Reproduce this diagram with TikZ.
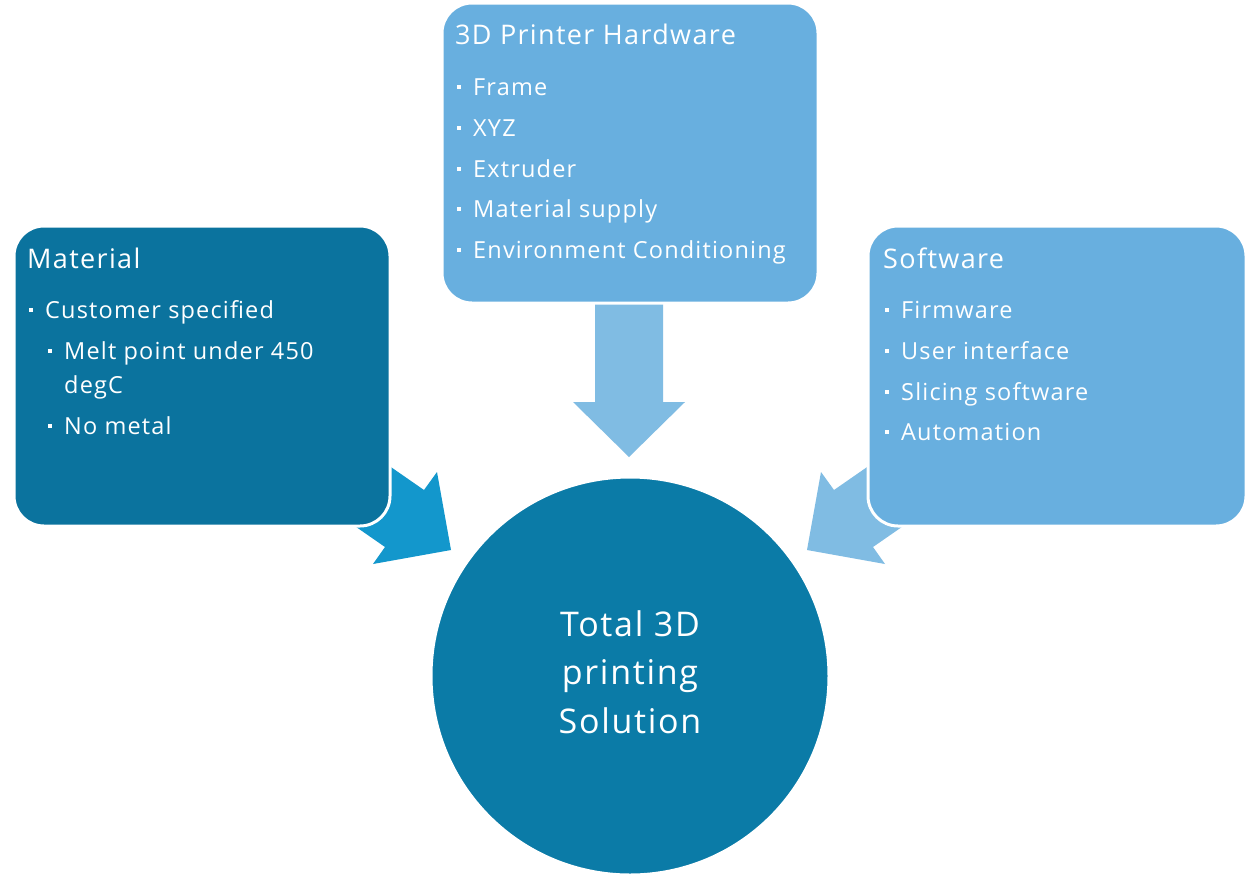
\documentclass[tikz,border=0pt]{standalone}
\usepackage{fontspec}
\setmainfont{Open Sans}[LetterSpace=5]
\definecolor{darkbox}{HTML}{0B739E}
\definecolor{lightbox}{HTML}{68AFDF}
\definecolor{lightarrow}{HTML}{80BCE3}
\definecolor{brightarrow}{HTML}{1397CC}
\definecolor{hub}{HTML}{0B7BA7}
\tikzset{
  box/.style={line width=3pt, draw=white, rounded corners=30pt},
  title/.style={anchor=base west, text=white, inner sep=0pt, font=\fontsize{27}{34}\selectfont},
  item/.style={anchor=base west, text=white, inner sep=0pt, font=\fontsize{23.5}{30}\selectfont},
  hubtext/.style={text=white, align=center, font=\fontsize{34}{48.5}\selectfont},
  bul/.style={fill=white, minimum size=4pt, inner sep=0pt, draw=none},
}
\newcommand{\bulitem}[4]{%
  \node[bul] (#1b) at (#2-14,#3-8.5) {};
  \node[item] (#1) at (#2,#3) {#4};}
\begin{document}
\begin{tikzpicture}[x=1pt,y=-1pt]
\useasboundingbox (0,0) rectangle (1253,876);
\fill[white] (0,0) rectangle (1253,876);
% arrows (behind boxes)
\fill[lightarrow] (595,300) -- (663,300) -- (663,402) -- (685,402) -- (629,457) -- (573,402) -- (595,402) -- cycle;
\fill[brightarrow] (375,456) -- (424,490) -- (437,472) -- (451,550) -- (373,564) -- (385,547) -- (336,513) -- cycle;
\fill[lightarrow] (883,456) -- (834,490) -- (821,472) -- (807,550) -- (885,564) -- (873,547) -- (922,513) -- cycle;
% hub
\node[circle, fill=hub, draw=white, line width=3pt, minimum size=398pt, inner sep=0pt] (hubc) at (630,676) {};
\node[hubtext] (hubt) at (630,672) {Total 3D\\printing\\Solution};
% boxes
\draw[box, fill=darkbox] (14,226) rectangle (390,526);
\draw[box, fill=lightbox] (442,3) rectangle (818,303);
\draw[box, fill=lightbox] (868,226) rectangle (1246,526);
% Material
\node[title] (mt) at (27,268) {Material};
\bulitem{m1}{45}{318}{Customer specified}
\bulitem{m2}{64}{359}{Melt point under 450}
\node[item] (m2b2) at (64,393) {degC};
\bulitem{m3}{64}{434}{No metal}
% Hardware
\node[title] (ht) at (455,44) {3D Printer Hardware};
\bulitem{h1}{473}{95}{Frame}
\bulitem{h2}{473}{136}{XYZ}
\bulitem{h3}{473}{177}{Extruder}
\bulitem{h4}{473}{217}{Material supply}
\bulitem{h5}{473}{258}{Environment Conditioning}
% Software
\node[title] (st) at (883,268) {Software};
\bulitem{s1}{901}{318}{Firmware}
\bulitem{s2}{901}{359}{User interface}
\bulitem{s3}{901}{400}{Slicing software}
\bulitem{s4}{901}{440}{Automation}
\end{tikzpicture}
\end{document}
